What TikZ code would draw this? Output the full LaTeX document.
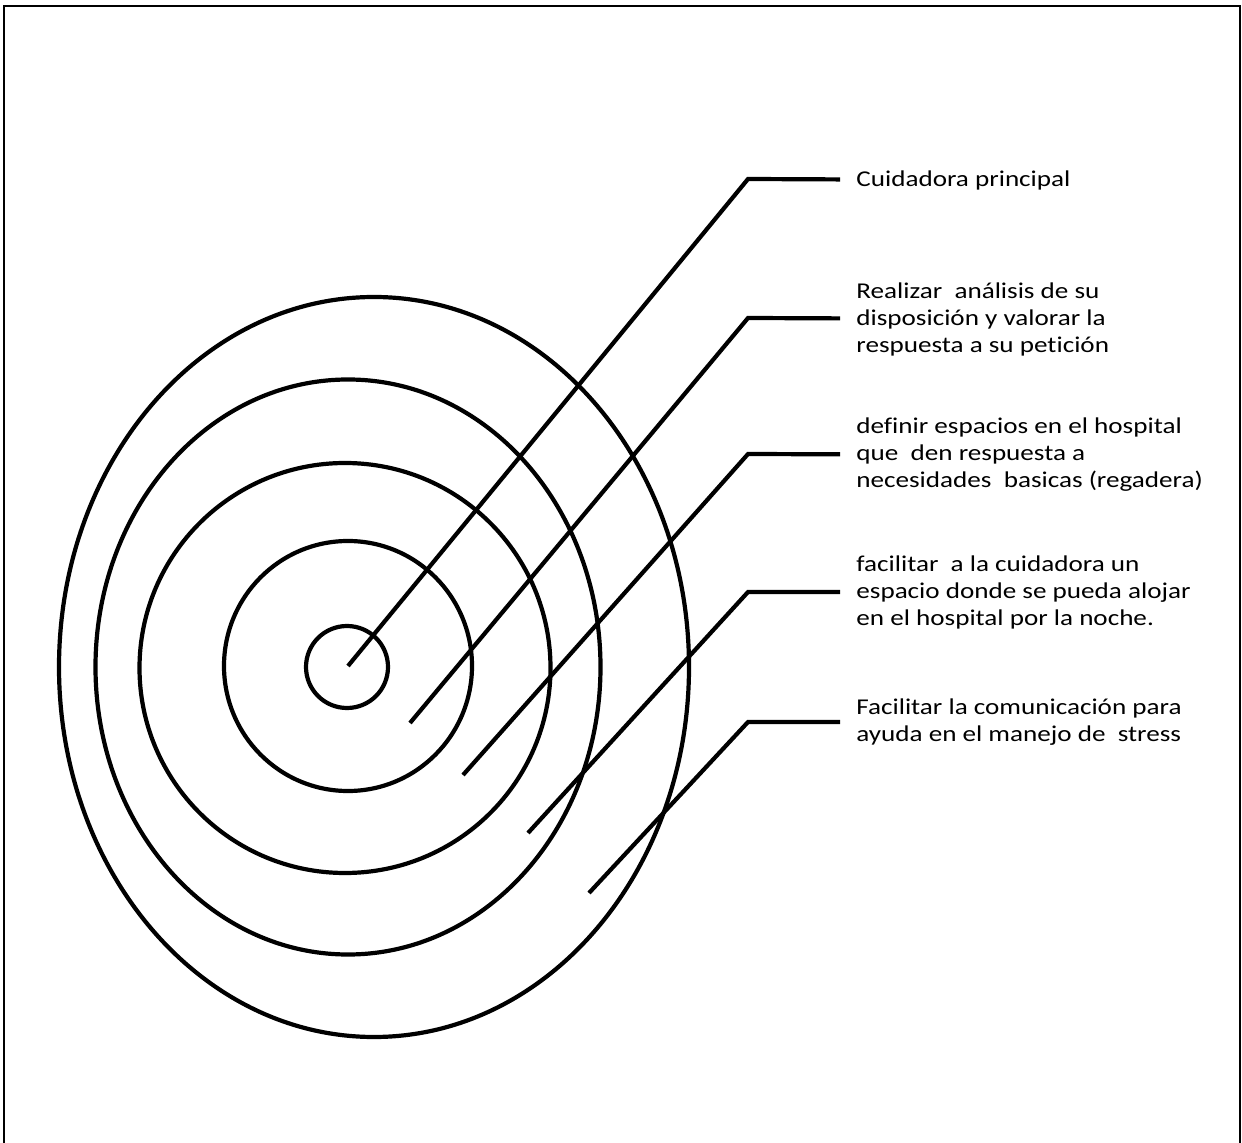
\documentclass[tikz,border=0pt]{standalone}
\usepackage{fontspec}
\setmainfont{Carlito}[FakeStretch=1.2,Ligatures=NoCommon]
\usetikzlibrary{positioning}

\begin{document}
\begin{tikzpicture}[
    x=0.5pt, y=-0.5pt,
    ring/.style={line width=2.1pt},
    leader/.style={line width=2.1pt},
    note/.style={anchor=west, inner xsep=8pt, inner ysep=0pt, align=left, font=\fontsize{11.3pt}{13.5pt}\selectfont}
]
\useasboundingbox (0,0) rectangle (1242,1143);
\draw[line width=1pt] (4,6) rectangle (1240,1170);
% target rings
\draw[ring] (347,667) circle (20.5pt);
\draw[ring] (348,666) ellipse (62pt and 62.5pt);
\draw[ring] (345,668) ellipse (102.75pt and 102.5pt);
\draw[ring] (348,667) ellipse (126.25pt and 143.75pt);
\draw[ring] (374,667) ellipse (157.5pt and 185pt);
% leader ends and bends
\coordinate (e1) at (348,666);
\coordinate (e2) at (410,723);
\coordinate (e3) at (463,775);
\coordinate (e4) at (528,833);
\coordinate (e5) at (589,893);
\coordinate (k1) at (748,179);
\coordinate (k2) at (748,318);
\coordinate (k3) at (748,454);
\coordinate (k4) at (748,592);
\coordinate (k5) at (748,722);
% notes
\node[note] (cuid) at (840,180) {Cuidadora principal};
\node[note] (anal) at (840,319) {Realizar~ análisis de su\\disposición y valorar la\\respuesta a su petición};
\node[note] (espa) at (840,455) {definir espacios en el hospital\\que~ den respuesta a\\necesidades~ basicas (regadera)};
\node[note] (aloj) at (840,592) {facilitar~ a la cuidadora un\\espacio donde se pueda alojar\\en el hospital por la noche.};
\node[note] (comu) at (840,722) {Facilitar la comunicación para\\ayuda en el manejo de~ stress};
\draw[leader] (e1) -- (k1) -- (cuid);
\draw[leader] (e2) -- (k2) -- (anal);
\draw[leader] (e3) -- (k3) -- (espa);
\draw[leader] (e4) -- (k4) -- (aloj);
\draw[leader] (e5) -- (k5) -- (comu);
\end{tikzpicture}
\end{document}
